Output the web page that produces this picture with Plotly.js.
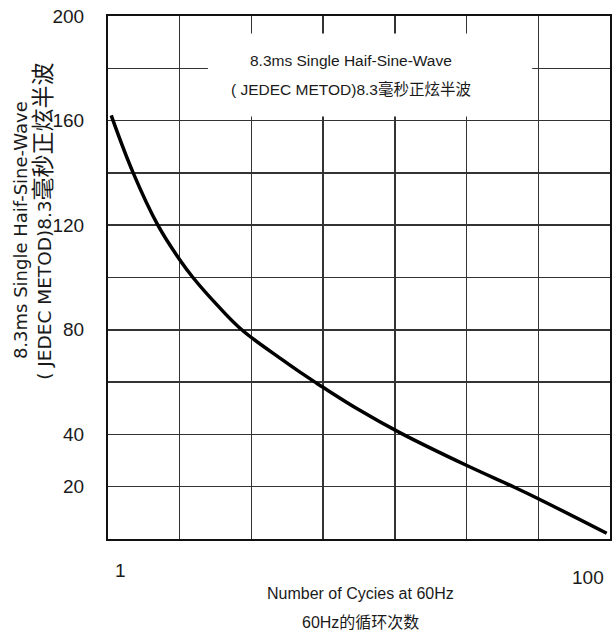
<!DOCTYPE html>
<html>
<head>
<meta charset="utf-8">
<script src="https://cdn.plot.ly/plotly-3.0.1.min.js"></script>
<style>
  html, body { margin: 0; padding: 0; background: #ffffff; }
  #chart { width: 614px; height: 640px; }
</style>
</head>
<body>
<div id="chart"></div>
<script>
// ---- data ----
const cycles = [1.03, 1.26, 1.58, 1.94, 2.18, 2.69, 3.41, 4.99, 5.82, 6.68, 7.19, 9.8, 14.6, 26.9, 41.8, 51.8, 97];
const surgeCurrent = [162, 140, 120, 106.5, 100, 90, 80, 68.3, 63.8, 60, 58, 49.9, 40.6, 28.1, 19.7, 15.4, 2.2];

const yTickVals = [0, 20, 40, 60, 80, 100, 120, 140, 160, 180, 200];
const yTickText = ['', '20', '40', '', '80', '', '120', '', '160', '', '200'];

const xTickVals = [1, 100];
const xTickText = ['1', '100'];

const yTitleLine1 = '8.3ms Single Haif-Sine-Wave';
const yTitleLine2Latin = '( JEDEC METOD)8.3';
const yTitleLine2CJK = '毫秒正炫半波';
const xTitleLines = ['Number of Cycies at 60Hz', '60Hz的循环次数'];
const boxLines = ['8.3ms Single Haif-Sine-Wave', '( JEDEC METOD)8.3毫秒正炫半波'];

// ---- styling ----
const NARROW = '"Liberation Sans", Arial, "Noto Sans CJK SC", sans-serif';
const WIDE = '"DejaVu Sans", Verdana, "Noto Sans CJK SC", sans-serif';
const TEXT = '#1a1a1a';

// evenly spaced decorative vertical grid (7 columns across the two decades)
const xGrid = [];
for (let k = 0; k <= 7; k++) xGrid.push(Math.pow(10, 2 * k / 7));

const trace = {
  x: cycles,
  y: surgeCurrent,
  type: 'scatter',
  mode: 'lines',
  line: { color: '#000000', width: 3.5, shape: 'spline', smoothing: 1.1 },
  hoverinfo: 'x+y'
};

const annotations = [];

// x tick labels
const xNudge = [{ dx: 12, dy: -19 }, { dx: -22, dy: -26 }];
xTickVals.forEach((v, i) => {
  annotations.push({
    x: Math.log10(v), xref: 'x', y: 0, yref: 'paper',
    xanchor: 'center', yanchor: 'top',
    xshift: xNudge[i].dx, yshift: xNudge[i].dy,
    text: xTickText[i], showarrow: false,
    font: { family: NARROW, size: 19, color: TEXT }
  });
});

// y title (two rotated lines)
annotations.push({
  x: -0.174, xref: 'paper', y: 0.59, yref: 'paper',
  xanchor: 'center', yanchor: 'middle', textangle: -90,
  text: yTitleLine1, showarrow: false,
  font: { family: WIDE, size: 18, color: TEXT }
});
annotations.push({
  x: -0.131, xref: 'paper', y: 0.607, yref: 'paper',
  xanchor: 'center', yanchor: 'middle', textangle: -90,
  text: yTitleLine2Latin + '<span style="font-size:23px">' + yTitleLine2CJK + '</span>',
  showarrow: false,
  font: { family: WIDE, size: 18.5, color: TEXT }
});

// x title (two lines)
const xTitleY = [-0.1042, -0.1597];
xTitleLines.forEach((t, i) => {
  annotations.push({
    x: 0.502, xref: 'paper', y: xTitleY[i], yref: 'paper',
    xanchor: 'center', yanchor: 'middle',
    text: t, showarrow: false,
    font: { family: NARROW, size: 16, color: TEXT }
  });
});

// text inside the white box
const boxY = [0.915, 0.861];
boxLines.forEach((t, i) => {
  annotations.push({
    x: 0.484, xref: 'paper', y: boxY[i], yref: 'paper',
    xanchor: 'center', yanchor: 'middle',
    text: t, showarrow: false,
    font: { family: NARROW, size: 15.5, color: TEXT }
  });
});

const layout = {
  width: 614,
  height: 640,
  margin: { l: 108, r: 4, t: 16, b: 101, pad: 0 },
  paper_bgcolor: '#ffffff',
  plot_bgcolor: '#ffffff',
  showlegend: false,
  xaxis: {
    type: 'log',
    range: [0, 2],
    tickmode: 'array',
    tickvals: xGrid,
    showticklabels: false,
    ticks: '',
    showgrid: true,
    gridcolor: '#333333',
    gridwidth: 1.5,
    zeroline: false,
    showline: true,
    mirror: true,
    linecolor: '#111111',
    linewidth: 2,
    fixedrange: true
  },
  yaxis: {
    range: [0, 200],
    tickmode: 'array',
    tickvals: yTickVals,
    ticktext: yTickText,
    ticks: '',
    ticklabelstandoff: 18,
    tickfont: { family: NARROW, size: 19, color: TEXT },
    showgrid: true,
    gridcolor: '#333333',
    gridwidth: 1.5,
    zeroline: false,
    showline: true,
    mirror: true,
    linecolor: '#111111',
    linewidth: 2,
    fixedrange: true
  },
  shapes: [{
    type: 'rect', xref: 'paper', yref: 'paper',
    x0: 0.199, x1: 0.845, y0: 0.808, y1: 0.9665,
    fillcolor: '#ffffff', line: { width: 0 }, layer: 'above'
  }],
  annotations: annotations
};

Plotly.newPlot('chart', [trace], layout, { displayModeBar: false, staticPlot: true });
</script>
</body>
</html>
